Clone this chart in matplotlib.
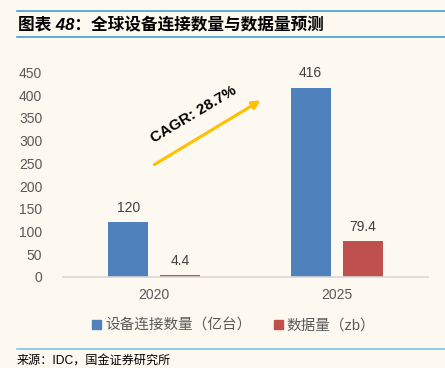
import matplotlib.pyplot as plt
import numpy as np
from matplotlib.lines import Line2D
from matplotlib.patches import Patch, FancyArrowPatch

plt.rcParams['font.family'] = ['Liberation Sans', 'Noto Sans CJK SC', 'DejaVu Sans']

#Region data
years = ['2020', '2025']
devices = [120, 416]      # 设备连接数量（亿台）
data_zb = [4.4, 79.4]     # 数据量（zb）
device_labels = ['120', '416']
data_labels = ['4.4', '79.4']
#EndRegion

bg = '#FDF9F0'
blue = '#4F81BD'
red = '#C0504D'
grey = '#595959'

W, H = 445, 368
fig = plt.figure(figsize=(W / 100, H / 100), dpi=100, facecolor=bg)

# axes placed in pixel coords: left 63, right 428, y0 at 277, y450 at 72
ax = fig.add_axes([63 / W, 1 - 277 / H, (428 - 63) / W, (277 - 72.3) / H])
ax.set_facecolor(bg)

x = np.arange(len(years))
off, bw = 0.143, 0.22
b1 = ax.bar(x - off, devices, bw, color=blue)
b2 = ax.bar(x + off, data_zb, bw, color=red)

for rect, lab in zip(b1, device_labels):
    ax.text(rect.get_x() + rect.get_width() / 2, rect.get_height() + 16, lab,
            ha='center', va='bottom', fontsize=10, color='#404040')
for rect, lab in zip(b2, data_labels):
    ax.text(rect.get_x() + rect.get_width() / 2, rect.get_height() + 16, lab,
            ha='center', va='bottom', fontsize=10, color='#404040')

ax.set_xlim(-0.5, 1.5)
ax.set_ylim(0, 450)
ax.set_yticks(range(0, 451, 50))
ax.set_xticks(x)
ax.set_xticklabels(years)
ax.tick_params(axis='both', length=0, labelsize=10, colors=grey)
ax.tick_params(axis='y', pad=15)
ax.tick_params(axis='x', pad=8)
for s in ['top', 'right', 'left']:
    ax.spines[s].set_visible(False)
ax.spines['bottom'].set_color('#D9D9D9')
ax.spines['bottom'].set_linewidth(1.2)

# CAGR arrow, in figure pixel coordinates
fig.add_artist(FancyArrowPatch(
    (152 / W, 1 - 166 / H), (263 / W, 1 - 99 / H),
    transform=fig.transFigure, arrowstyle='-|>', mutation_scale=12,
    color='#FFC000', lw=2.2))
fig.text(194 / W, 1 - 114 / H, 'CAGR: 28.7%', rotation=31, ha='center', va='center',
         fontsize=11, fontweight='bold', color='black')

# title and rules
line_c = '#41A0D8'
fig.add_artist(Line2D([17 / W, 1], [1 - 11 / H] * 2, color=line_c, lw=1.2))
fig.add_artist(Line2D([17 / W, 1], [1 - 37 / H] * 2, color=line_c, lw=1.2))
fig.text(18 / W, 1 - 24.5 / H, '图表 48：全球设备连接数量与数据量预测', ha='left', va='center',
         fontsize=12, fontweight='bold', fontstyle='italic', color='black')

# legend
handles = [Patch(color=blue), Patch(color=red)]
fig.legend(handles, ['设备连接数量（亿台）', '数据量（zb）'], loc='center',
           bbox_to_anchor=(234 / W, 1 - 326 / H), ncol=2, frameon=False,
           fontsize=10.5, labelcolor=grey, handlelength=0.6, handleheight=0.6,
           handletextpad=0.25, columnspacing=1.6)

# source
fig.add_artist(Line2D([17 / W, 1], [1 - 349 / H] * 2, color='#7FC4E4', lw=1.2))
fig.text(17 / W, 1 - 361 / H, '来源：IDC，国金证券研究所', ha='left', va='center',
         fontsize=8.7, color='black')

fig.savefig('out.png', dpi=100, facecolor=bg)
